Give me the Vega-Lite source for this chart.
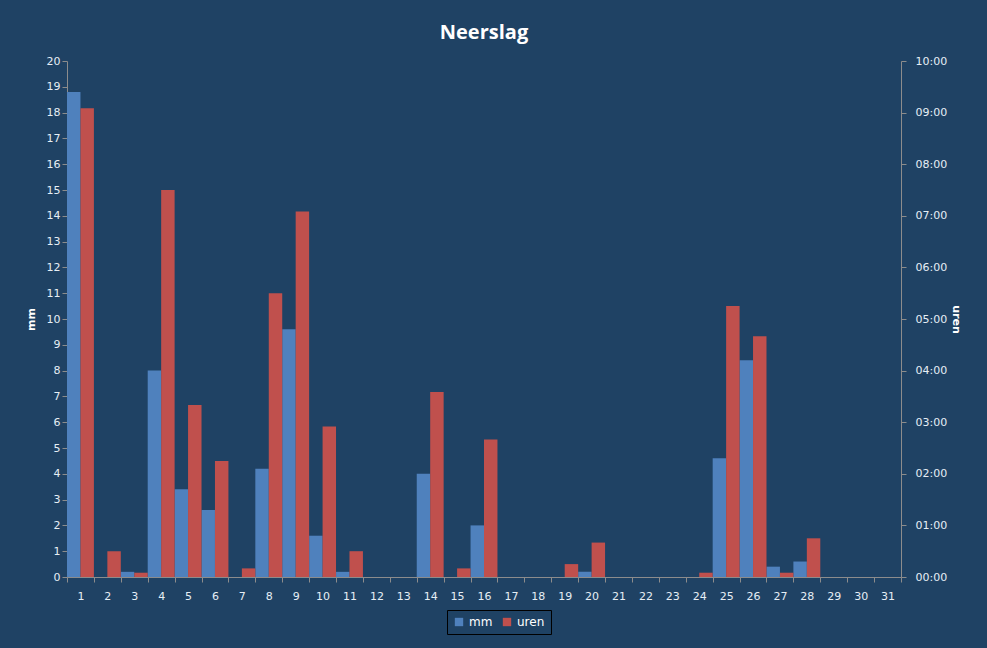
{
  "$schema": "https://vega.github.io/schema/vega-lite/v6.json",
  "width": 834,
  "height": 516,
  "autosize": {"type": "none"},
  "padding": {"left": 67, "top": 61, "right": 86, "bottom": 71},
  "background": "#1F4264",
  "title": {
    "text": "Neerslag",
    "color": "white",
    "font": "Open Sans",
    "fontSize": 20,
    "fontWeight": "bold",
    "anchor": "middle",
    "offset": 12
  },
  "data": {
    "values": [
      {"dag": 1, "serie": "mm", "waarde": 18.8}, {"dag": 1, "serie": "uren", "waarde": 9.083},
      {"dag": 2, "serie": "mm", "waarde": 0}, {"dag": 2, "serie": "uren", "waarde": 0.5},
      {"dag": 3, "serie": "mm", "waarde": 0.2}, {"dag": 3, "serie": "uren", "waarde": 0.083},
      {"dag": 4, "serie": "mm", "waarde": 8.0}, {"dag": 4, "serie": "uren", "waarde": 7.5},
      {"dag": 5, "serie": "mm", "waarde": 3.4}, {"dag": 5, "serie": "uren", "waarde": 3.333},
      {"dag": 6, "serie": "mm", "waarde": 2.6}, {"dag": 6, "serie": "uren", "waarde": 2.25},
      {"dag": 7, "serie": "mm", "waarde": 0}, {"dag": 7, "serie": "uren", "waarde": 0.167},
      {"dag": 8, "serie": "mm", "waarde": 4.2}, {"dag": 8, "serie": "uren", "waarde": 5.5},
      {"dag": 9, "serie": "mm", "waarde": 9.6}, {"dag": 9, "serie": "uren", "waarde": 7.083},
      {"dag": 10, "serie": "mm", "waarde": 1.6}, {"dag": 10, "serie": "uren", "waarde": 2.917},
      {"dag": 11, "serie": "mm", "waarde": 0.2}, {"dag": 11, "serie": "uren", "waarde": 0.5},
      {"dag": 12, "serie": "mm", "waarde": 0}, {"dag": 12, "serie": "uren", "waarde": 0},
      {"dag": 13, "serie": "mm", "waarde": 0}, {"dag": 13, "serie": "uren", "waarde": 0},
      {"dag": 14, "serie": "mm", "waarde": 4.0}, {"dag": 14, "serie": "uren", "waarde": 3.583},
      {"dag": 15, "serie": "mm", "waarde": 0}, {"dag": 15, "serie": "uren", "waarde": 0.167},
      {"dag": 16, "serie": "mm", "waarde": 2.0}, {"dag": 16, "serie": "uren", "waarde": 2.667},
      {"dag": 17, "serie": "mm", "waarde": 0}, {"dag": 17, "serie": "uren", "waarde": 0},
      {"dag": 18, "serie": "mm", "waarde": 0}, {"dag": 18, "serie": "uren", "waarde": 0},
      {"dag": 19, "serie": "mm", "waarde": 0}, {"dag": 19, "serie": "uren", "waarde": 0.25},
      {"dag": 20, "serie": "mm", "waarde": 0.2}, {"dag": 20, "serie": "uren", "waarde": 0.667},
      {"dag": 21, "serie": "mm", "waarde": 0}, {"dag": 21, "serie": "uren", "waarde": 0},
      {"dag": 22, "serie": "mm", "waarde": 0}, {"dag": 22, "serie": "uren", "waarde": 0},
      {"dag": 23, "serie": "mm", "waarde": 0}, {"dag": 23, "serie": "uren", "waarde": 0},
      {"dag": 24, "serie": "mm", "waarde": 0}, {"dag": 24, "serie": "uren", "waarde": 0.083},
      {"dag": 25, "serie": "mm", "waarde": 4.6}, {"dag": 25, "serie": "uren", "waarde": 5.25},
      {"dag": 26, "serie": "mm", "waarde": 8.4}, {"dag": 26, "serie": "uren", "waarde": 4.667},
      {"dag": 27, "serie": "mm", "waarde": 0.4}, {"dag": 27, "serie": "uren", "waarde": 0.083},
      {"dag": 28, "serie": "mm", "waarde": 0.6}, {"dag": 28, "serie": "uren", "waarde": 0.75},
      {"dag": 29, "serie": "mm", "waarde": 0}, {"dag": 29, "serie": "uren", "waarde": 0},
      {"dag": 30, "serie": "mm", "waarde": 0}, {"dag": 30, "serie": "uren", "waarde": 0},
      {"dag": 31, "serie": "mm", "waarde": 0}, {"dag": 31, "serie": "uren", "waarde": 0}
    ]
  },
  "encoding": {
    "x": {
      "field": "dag",
      "type": "ordinal",
      "title": null,
      "scale": {"paddingInner": 0, "paddingOuter": 0},
      "axis": {"labelAngle": 0, "tickBand": "extent", "labelPadding": 8}
    },
    "xOffset": {
      "field": "serie",
      "type": "nominal",
      "scale": {"domain": ["mm", "uren"], "paddingInner": 0, "paddingOuter": 0}
    },
    "color": {
      "field": "serie",
      "type": "nominal",
      "scale": {"domain": ["mm", "uren"], "range": ["#4F81BD", "#C0504D"]},
      "legend": {
        "title": null,
        "orient": "none",
        "legendX": 380,
        "legendY": 549,
        "direction": "horizontal",
        "strokeColor": "black",
        "padding": 6,
        "symbolType": "square",
        "symbolSize": 70,
        "symbolStrokeWidth": 0,
        "labelColor": "white",
        "labelFont": "DejaVu Sans",
        "labelFontSize": 12,
        "columnPadding": 8
      }
    }
  },
  "layer": [
    {
      "transform": [{"filter": "datum.serie == 'mm'"}],
      "mark": {"type": "bar"},
      "encoding": {
        "y": {
          "field": "waarde",
          "type": "quantitative",
          "title": "mm",
          "scale": {"domain": [0, 20]},
          "axis": {
            "orient": "left",
            "values": [0, 1, 2, 3, 4, 5, 6, 7, 8, 9, 10, 11, 12, 13, 14, 15, 16, 17, 18, 19, 20],
            "titlePadding": 10
          }
        }
      }
    },
    {
      "transform": [{"filter": "datum.serie == 'uren'"}],
      "mark": {"type": "bar"},
      "encoding": {
        "y": {
          "field": "waarde",
          "type": "quantitative",
          "title": "uren",
          "scale": {"domain": [0, 10]},
          "axis": {
            "orient": "right",
            "values": [0, 1, 2, 3, 4, 5, 6, 7, 8, 9, 10],
            "labelExpr": "(datum.value < 10 ? '0' : '') + datum.value + ':00'",
            "labelPadding": 9,
            "titlePadding": 4
          }
        }
      }
    }
  ],
  "resolve": {"scale": {"y": "independent"}},
  "config": {
    "view": {"stroke": null},
    "axis": {
      "grid": false,
      "domainColor": "#8C8C8C",
      "tickColor": "#8C8C8C",
      "tickSize": 5,
      "labelColor": "#E6EEF5",
      "labelFont": "DejaVu Sans",
      "labelFontSize": 11,
      "titleColor": "white",
      "titleFont": "DejaVu Sans",
      "titleFontSize": 11,
      "titleFontWeight": "bold"
    }
  }
}
